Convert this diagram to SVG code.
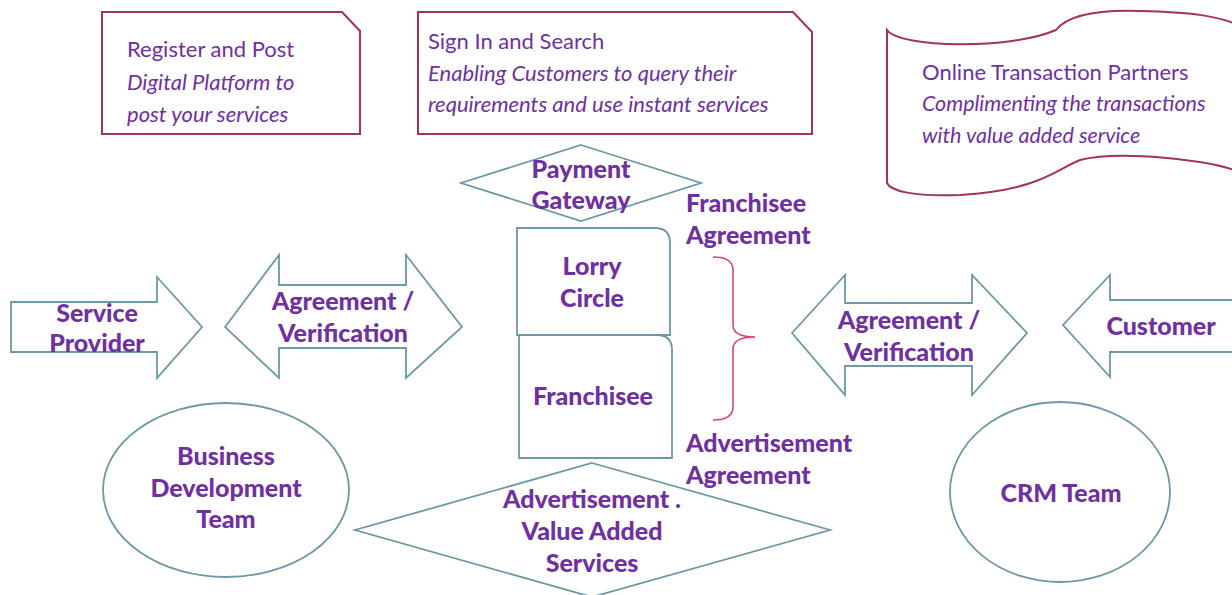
<svg xmlns="http://www.w3.org/2000/svg" width="1232" height="595" viewBox="0 0 1232 595">
<style>
.note{fill:#fff;stroke:#a3354f;stroke-width:2}
.shape{fill:#fff;stroke:#6a9aa3;stroke-width:1.8}
.t{font-family:Lato,"Open Sans",sans-serif;fill:#7030a0;font-size:22px}
.i{font-style:italic}
.b{font-weight:900;font-size:25px}
.m{text-anchor:middle}
</style>
<rect width="1232" height="595" fill="#fff"/>
<g id="register-post">
<path class="note" d="M102,12 H342 L360,31 V134 H102 Z"/>
<text class="t" x="127" y="57">Register and Post</text>
<text class="t i" x="127" y="90">Digital Platform to</text>
<text class="t i" x="127" y="122">post your services</text>
</g>
<g id="sign-in-search">
<path class="note" d="M418,12 H793 L812,32 V134 H418 Z"/>
<text class="t" x="428" y="49">Sign In and Search</text>
<text class="t i" x="428" y="81">Enabling Customers to query their</text>
<text class="t i" x="428" y="112">requirements and use instant services</text>
</g>
<g id="online-partners">
<path class="note" d="M887,30 C900,48 1010,50 1056,30 C1070,12 1110,10 1140,11 C1190,12 1220,16 1240,26 L1240,172 C1210,160 1120,150 1080,160 C1055,170 1040,190 960,195 C910,197 890,190 887,183 Z"/>
<text class="t" x="922" y="80">Online Transaction Partners</text>
<text class="t i" x="922" y="111" style="font-size:21.5px">Complimenting the transactions</text>
<text class="t i" x="922" y="143" style="font-size:21.5px">with value added service</text>
</g>
<g id="payment-gateway">
<path class="shape" d="M581,145 L701,183 L581,221 L461,183 Z"/>
<text class="t b m" x="581" y="178">Payment</text>
<text class="t b m" x="581" y="209">Gateway</text>
</g>
<g id="franchisee-agreement">
<text class="t b" x="686" y="212">Franchisee</text>
<text class="t b" x="686" y="244">Agreement</text>
</g>
<g id="lorry-circle">
<path class="shape" d="M517,228 H655 Q670,228 670,243 V335 H517 Z"/>
<text class="t b m" x="592" y="275">Lorry</text>
<text class="t b m" x="592" y="307">Circle</text>
</g>
<g id="franchisee">
<path class="shape" d="M519,335 H657 Q672,335 672,350 V458 H519 Z"/>
<text class="t b m" x="593" y="405">Franchisee</text>
</g>
<g id="advertisement-agreement">
<text class="t b" x="686" y="452">Advertisement</text>
<text class="t b" x="686" y="484">Agreement</text>
</g>
<g id="service-provider">
<path class="shape" d="M11,302 H157 V277 L202,327 L157,378 V352 H11 Z"/>
<text class="t b m" x="97" y="322">Service</text>
<text class="t b m" x="97" y="352">Provider</text>
</g>
<g id="agreement-left">
<path class="shape" d="M225,327 L279,255 V285 H406 V255 L462,327 L406,378 V348 H279 V378 Z"/>
<text class="t b m" x="343" y="310">Agreement /</text>
<text class="t b m" x="343" y="342">Verification</text>
</g>
<g id="agreement-right">
<path class="shape" d="M792,333 L845,275 V303 H972 V275 L1027,333 L972,395 V366 H845 V395 Z"/>
<text class="t b m" x="909" y="329">Agreement /</text>
<text class="t b m" x="909" y="361">Verification</text>
</g>
<g id="customer">
<path class="shape" d="M1240,300 H1110 V275 L1063,325 L1110,377 V352 H1240"/>
<text class="t b m" x="1161" y="335">Customer</text>
</g>
<g id="business-development">
<ellipse class="shape" cx="226" cy="490" rx="123" ry="87"/>
<text class="t b m" x="226" y="465">Business</text>
<text class="t b m" x="226" y="497">Development</text>
<text class="t b m" x="226" y="528">Team</text>
</g>
<g id="crm-team">
<ellipse class="shape" cx="1060" cy="492" rx="110" ry="90"/>
<text class="t b m" x="1061" y="502">CRM Team</text>
</g>
<g id="value-added">
<path class="shape" d="M592,463 L830,530 L592,597 L355,530 Z"/>
<text class="t b m" x="592" y="508">Advertisement .</text>
<text class="t b m" x="592" y="540">Value Added</text>
<text class="t b m" x="592" y="572">Services</text>
</g>
<g id="connectors">
<path d="M713,257 Q733,257 733,270 V325 Q733,337 755,337 Q733,337 733,349 V407 Q733,420 713,420" fill="none" stroke="#d9466a" stroke-width="1.6"/>
</g>
</svg>
